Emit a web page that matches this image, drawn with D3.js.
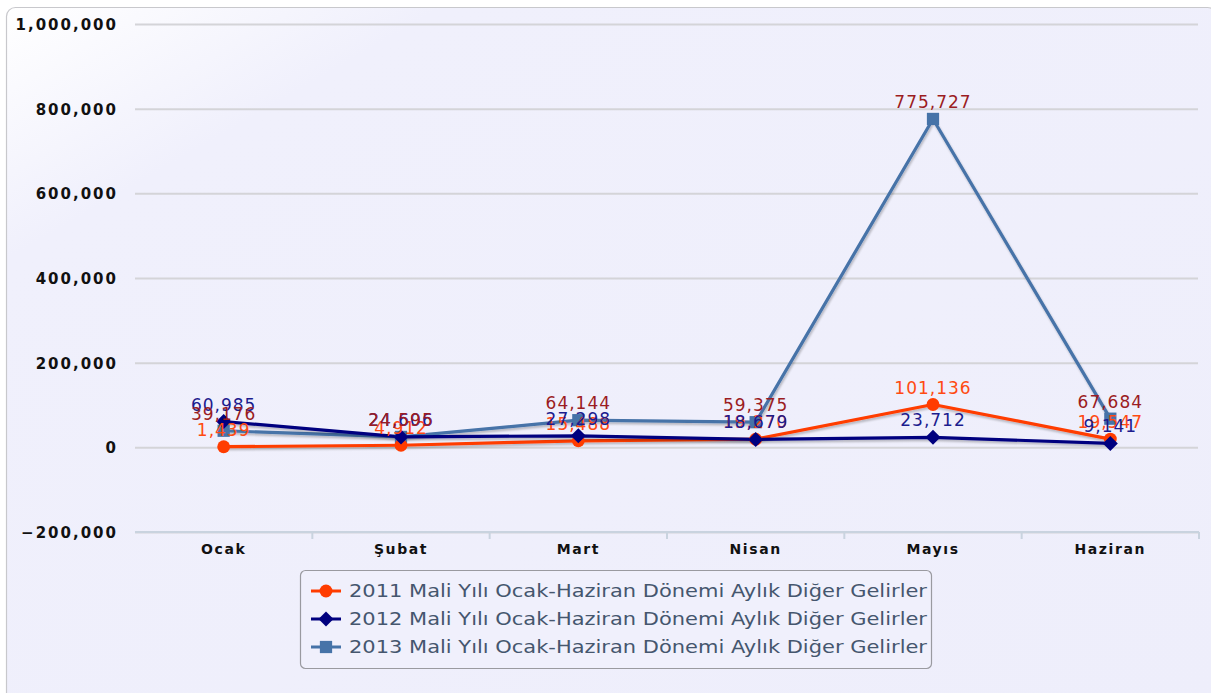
<!DOCTYPE html>
<html><head><meta charset="utf-8">
<script src="https://cdn.jsdelivr.net/npm/d3@7/dist/d3.min.js"></script>
<style>
html,body{margin:0;padding:0;background:#fff;overflow:hidden;}
svg{display:block;}
</style></head>
<body>
<svg id="c" width="1211" height="693"></svg>
<script>
const categories = ["Ocak","Şubat","Mart","Nisan","Mayıs","Haziran"];
const yTicks = [-200000, 0, 200000, 400000, 600000, 800000, 1000000];
const seriesNames = [
  "2011 Mali Yılı Ocak-Haziran Dönemi Aylık Diğer Gelirler",
  "2012 Mali Yılı Ocak-Haziran Dönemi Aylık Diğer Gelirler",
  "2013 Mali Yılı Ocak-Haziran Dönemi Aylık Diğer Gelirler"
];
const values2011 = [1439, 4912, 15488, 19270, 101136, 19547];
const values2012 = [60985, 24606, 27298, 18679, 23712, 9141];
const values2013 = [39176, 24595, 64144, 59375, 775727, 67684];

const series = [
  {name: seriesNames[0], values: values2011, color: "#ff3c00", label: "#ff4a12", marker: "circle"},
  {name: seriesNames[1], values: values2012, color: "#00007f", label: "#1c1c8e", marker: "diamond"},
  {name: seriesNames[2], values: values2013, color: "#4673a8", label: "#9b1c22", marker: "square"}
];

const svg = d3.select("#c");
const defs = svg.append("defs");
const grad = defs.append("linearGradient").attr("id","bg").attr("x1","0").attr("y1","0").attr("x2","1").attr("y2","1");
grad.append("stop").attr("offset","0").attr("stop-color","#ffffff");
grad.append("stop").attr("offset","0.18").attr("stop-color","#f0f0fc");
grad.append("stop").attr("offset","1").attr("stop-color","#eeeefb");
const sh = defs.append("filter").attr("id","sh").attr("x","-5%").attr("y","-5%").attr("width","110%").attr("height","120%");
sh.append("feGaussianBlur").attr("in","SourceAlpha").attr("stdDeviation","1.2").attr("result","b");
sh.append("feOffset").attr("in","b").attr("dx","1").attr("dy","2").attr("result","o");
sh.append("feComponentTransfer").attr("in","o").attr("result","o2").append("feFuncA").attr("type","linear").attr("slope","0.25");
const mg = sh.append("feMerge");
mg.append("feMergeNode").attr("in","o2");
mg.append("feMergeNode").attr("in","SourceGraphic");

svg.append("rect").attr("x",6.5).attr("y",7.5).attr("width",1210).attr("height",700)
  .attr("rx",9).attr("fill","url(#bg)").attr("stroke","#c8c8cc").attr("stroke-width",1.2);

const left = 135, right = 1199;
const x = d3.scaleBand().domain(categories).range([left, right]);
const y = d3.scaleLinear().domain([-200000, 1000000]).range([532, 24]);

// gridlines
const gAxis = svg.append("g").attr("transform", `translate(${left},0)`);
gAxis.call(d3.axisLeft(y).tickValues(yTicks).tickSize(-(right-left-1)).tickPadding(17)
  .tickFormat(d3.format(",")));
gAxis.select(".domain").remove();
gAxis.selectAll(".tick line").attr("stroke","#d4d4d8").attr("stroke-width",2);
gAxis.selectAll(".tick text").attr("font-family","DejaVu Sans").attr("font-weight","bold")
  .attr("font-size",15).attr("letter-spacing","2px").attr("fill","#111").attr("dy","0.36em");

// x axis
const xa = svg.append("g").attr("transform", `translate(0,${y(-200000)})`);
xa.append("line").attr("x1",left).attr("x2",right).attr("stroke","#c9d3df").attr("stroke-width",2);
const bounds = categories.map(c => x(c)).slice(1).concat([right]);
xa.selectAll("line.tk").data(bounds).enter().append("line").attr("class","tk")
  .attr("x1",d=>d).attr("x2",d=>d).attr("y1",0).attr("y2",7).attr("stroke","#c9d3df").attr("stroke-width",2);
xa.selectAll("text").data(categories).enter().append("text")
  .attr("x", d => x(d) + x.bandwidth()/2).attr("y", 22)
  .attr("text-anchor","middle").attr("font-family","DejaVu Sans").attr("font-weight","bold")
  .attr("font-size",14).attr("letter-spacing","1.6px").attr("fill","#111").text(d=>d);

const cx = c => x(c) + x.bandwidth()/2;
const line = d3.line().x((d,i)=>cx(categories[i])).y(d=>y(d));

const sym = {
  circle: () => d3.symbol().type(d3.symbolCircle).size(130)(),
  diamond: () => "M0,-7.5L7.5,0L0,7.5L-7.5,0Z",
  square: () => d3.symbol().type(d3.symbolSquare).size(150)()
};

const order = [2, 0, 1];
order.forEach(si => {
  const s = series[si];
  svg.append("path").datum(s.values).attr("d", line).attr("fill","none")
    .attr("stroke", s.color).attr("stroke-width",3.2).attr("stroke-linejoin","round").attr("filter","url(#sh)");
});
order.forEach(si => {
  const s = series[si];
  svg.append("g").selectAll("path").data(s.values).enter().append("path")
    .attr("d", sym[s.marker]())
    .attr("transform",(d,i)=>`translate(${cx(categories[i])},${y(d)})`)
    .attr("fill", s.color);
});
[0,1,2].forEach(si => {
  const s = series[si];
  svg.append("g").selectAll("text").data(s.values).enter().append("text")
    .attr("x",(d,i)=>cx(categories[i])).attr("y",d=>y(d)-11)
    .attr("text-anchor","middle").attr("font-family","DejaVu Sans").attr("font-size",17)
    .attr("letter-spacing","1px").attr("fill", s.label).text(d=>d3.format(",")(d));
});

// legend
const lg = svg.append("g");
lg.append("rect").attr("x",300.5).attr("y",570.5).attr("width",631).attr("height",98).attr("rx",5)
  .attr("fill","#f0f0fc").attr("stroke","#9a9aa0").attr("stroke-width",1.2);
series.forEach((s,i) => {
  const ly = 591 + i*28;
  lg.append("line").attr("x1",311).attr("x2",341).attr("y1",ly).attr("y2",ly).attr("stroke",s.color).attr("stroke-width",3);
  lg.append("path").attr("d", sym[s.marker]()).attr("transform",`translate(326,${ly})`).attr("fill",s.color);
  lg.append("text").attr("x",349).attr("y",ly).attr("dy","0.36em").attr("font-family","DejaVu Sans")
    .attr("font-size",18).attr("fill","#45566e")
    .attr("textLength",578).attr("lengthAdjust","spacingAndGlyphs").text(s.name);
});
</script>
</body></html>
